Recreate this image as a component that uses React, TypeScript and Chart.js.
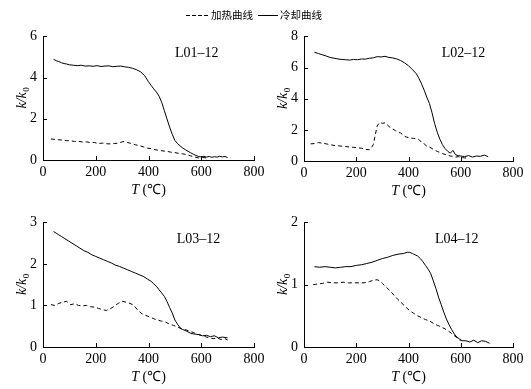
import React, { useEffect, useRef } from "react";
import { Chart, registerables } from "chart.js";
Chart.register(...registerables);

// ---------- data ----------
const xTickValues = [0, 200, 400, 600, 800];
const legendHeat = "加热曲线";
const legendCool = "冷却曲线";
const panelNames = ["L01–12", "L02–12", "L03–12", "L04–12"];
const yMaxes = [6, 8, 3, 2];
const ySteps = [2, 2, 1, 1];

// L01-12
const l01CoolT = [40,50,60,70,80,90,100,115,130,145,160,175,190,205,220,235,250,265,280,295,310,325,340,355,370,385,400,410,420,430,440,450,460,470,480,490,500,510,520,530,540,550,560,570,580,590,600,610,620,630,640,650,660,670,680,690,700];
const l01CoolK = [4.89,4.82,4.78,4.72,4.68,4.66,4.62,4.60,4.58,4.60,4.56,4.57,4.55,4.58,4.54,4.56,4.57,4.53,4.55,4.56,4.52,4.50,4.45,4.38,4.28,4.10,3.80,3.62,3.45,3.30,3.10,2.80,2.40,2.00,1.60,1.25,0.95,0.80,0.68,0.58,0.50,0.42,0.35,0.28,0.22,0.17,0.15,0.18,0.14,0.17,0.13,0.16,0.14,0.18,0.15,0.17,0.12];
const l01HeatT = [30,45,60,75,90,105,120,135,150,165,180,195,210,225,240,255,270,285,300,310,320,335,350,365,380,395,410,425,440,455,470,485,500,515,530,545,560,575,590,605,620];
const l01HeatK = [1.02,1.00,0.98,0.97,0.94,0.93,0.90,0.91,0.87,0.88,0.84,0.85,0.80,0.82,0.79,0.78,0.80,0.82,0.88,0.90,0.85,0.80,0.74,0.70,0.64,0.58,0.55,0.50,0.47,0.44,0.42,0.38,0.36,0.32,0.30,0.26,0.20,0.15,0.10,0.12,0.10];

// L02-12
const l02CoolT = [40,55,70,85,100,115,130,145,160,175,190,205,220,235,250,265,280,295,310,325,340,355,370,385,400,410,420,430,440,450,460,470,480,490,500,510,520,530,540,550,560,570,580,590,600,615,630,645,660,675,690,705];
const l02CoolK = [6.98,6.90,6.82,6.74,6.65,6.60,6.55,6.52,6.50,6.48,6.52,6.50,6.55,6.54,6.60,6.62,6.70,6.68,6.72,6.65,6.62,6.55,6.45,6.30,6.12,5.95,5.78,5.60,5.30,4.95,4.55,4.10,3.70,3.10,2.40,1.85,1.40,1.05,0.80,0.62,0.50,0.68,0.40,0.35,0.32,0.28,0.35,0.25,0.32,0.30,0.38,0.28];
const l02HeatT = [25,40,55,70,85,100,115,130,145,160,175,190,205,220,235,250,258,265,272,280,290,300,310,320,330,340,350,360,370,380,390,400,410,420,430,440,450,460,470,480,490,500,510,520,530,540,550,560,570,580,590,600,615,630];
const l02HeatK = [1.10,1.12,1.18,1.15,1.10,1.05,1.00,0.98,0.95,0.93,0.90,0.88,0.85,0.82,0.75,0.72,0.85,1.05,1.60,2.25,2.48,2.42,2.45,2.30,2.15,2.05,1.95,1.85,1.80,1.65,1.55,1.50,1.47,1.45,1.42,1.38,1.20,1.10,0.95,0.90,0.80,0.70,0.62,0.55,0.48,0.42,0.38,0.32,0.30,0.25,0.28,0.22,0.20,0.18];

// L03-12
const l03CoolT = [40,50,60,70,80,95,110,125,140,155,170,185,200,215,230,245,260,275,290,305,320,335,350,365,380,395,410,420,430,440,450,460,470,480,490,500,510,520,530,545,560,575,590,605,620,635,650,665,680,700];
const l03CoolK = [2.78,2.74,2.70,2.66,2.62,2.56,2.50,2.44,2.38,2.32,2.28,2.22,2.18,2.14,2.10,2.06,2.02,1.97,1.94,1.90,1.86,1.82,1.78,1.74,1.70,1.64,1.58,1.52,1.46,1.38,1.30,1.22,1.10,0.95,0.82,0.65,0.55,0.46,0.42,0.38,0.33,0.31,0.30,0.27,0.28,0.25,0.27,0.22,0.24,0.22];
const l03HeatT = [30,45,60,75,90,105,120,135,150,165,180,195,210,225,240,255,270,285,300,315,330,345,360,375,390,405,420,435,450,465,480,495,510,525,540,555,570,585,600,615,630,645,660,675,690,700];
const l03HeatK = [1.02,1.00,1.05,1.08,1.10,1.02,1.04,1.00,0.99,1.00,0.97,0.96,0.93,0.90,0.88,0.92,0.98,1.05,1.10,1.08,1.05,1.00,0.88,0.80,0.76,0.72,0.68,0.65,0.62,0.60,0.55,0.52,0.48,0.44,0.42,0.38,0.35,0.31,0.28,0.25,0.22,0.20,0.22,0.18,0.20,0.17];

// L04-12
const l04CoolT = [40,60,80,100,120,140,160,180,200,220,240,260,280,300,320,340,360,380,395,405,415,425,435,445,455,465,475,485,495,505,515,525,535,545,555,565,575,585,595,605,620,635,650,665,680,695,710];
const l04CoolK = [1.29,1.28,1.29,1.28,1.27,1.28,1.29,1.29,1.31,1.32,1.34,1.36,1.39,1.42,1.44,1.47,1.49,1.50,1.52,1.52,1.50,1.48,1.46,1.42,1.37,1.31,1.25,1.18,1.06,0.94,0.80,0.68,0.56,0.45,0.36,0.28,0.21,0.16,0.13,0.10,0.10,0.08,0.11,0.07,0.10,0.09,0.06];
const l04HeatT = [35,50,70,90,110,130,150,170,190,210,230,250,265,280,290,300,315,330,345,360,375,390,405,420,435,450,465,480,495,510,525,540,555,570,585,600];
const l04HeatK = [1.00,1.01,1.02,1.04,1.03,1.03,1.04,1.03,1.03,1.03,1.03,1.05,1.07,1.08,1.06,1.02,0.96,0.90,0.83,0.76,0.70,0.64,0.58,0.54,0.50,0.47,0.44,0.42,0.38,0.35,0.32,0.29,0.25,0.20,0.15,0.10];

const coolT = [l01CoolT, l02CoolT, l03CoolT, l04CoolT];
const coolK = [l01CoolK, l02CoolK, l03CoolK, l04CoolK];
const heatT = [l01HeatT, l02HeatT, l03HeatT, l04HeatT];
const heatK = [l01HeatK, l02HeatK, l03HeatK, l04HeatK];

// ---------- layout ----------
const SERIF = '"Liberation Serif", "Times New Roman", serif';
const CJK = '"Noto Sans CJK SC", sans-serif';

type Layout = {
  left: number; top: number; width: number; height: number;
  yAxisW: number; xAxisH: number; padTop: number; padRight: number; labelT: number;
};
const layouts: Layout[] = [
  { left: 0, top: 22, width: 270, height: 176, yAxisW: 43, xAxisH: 38, padTop: 12, padRight: 16, labelT: 500 },
  { left: 265, top: 22, width: 266, height: 176, yAxisW: 39, xAxisH: 37, padTop: 12, padRight: 18, labelT: 527 },
  { left: 0, top: 208, width: 270, height: 181, yAxisW: 43, xAxisH: 42, padTop: 12, padRight: 16, labelT: 507 },
  { left: 265, top: 208, width: 266, height: 181, yAxisW: 39, xAxisH: 42, padTop: 12, padRight: 18, labelT: 501 },
];

const toPoints = (t: number[], k: number[]) => t.map((x, i) => ({ x, y: k[i] }));

const decorPlugin = {
  id: "decor",
  afterDraw(chart: any, _args: any, opts: any) {
    const { ctx, chartArea, scales } = chart;
    const xs = scales.x;
    const ys = scales.y;
    ctx.save();
    ctx.strokeStyle = "#000";
    ctx.lineWidth = 1;
    ctx.beginPath();
    xs.ticks.forEach((t: any) => {
      const px = Math.round(xs.getPixelForValue(t.value)) + 0.5;
      ctx.moveTo(px, chartArea.bottom);
      ctx.lineTo(px, chartArea.bottom - 4);
    });
    ys.ticks.forEach((t: any) => {
      const py = Math.round(ys.getPixelForValue(t.value)) + 0.5;
      ctx.moveTo(chartArea.left, py);
      ctx.lineTo(chartArea.left + 4, py);
    });
    ctx.stroke();

    ctx.fillStyle = "#000";
    ctx.textAlign = "left";
    ctx.textBaseline = "alphabetic";

    // y title k/k0
    const cy = (chartArea.top + chartArea.bottom) / 2;
    const tx = chartArea.left - 22;
    ctx.save();
    ctx.translate(tx, cy);
    ctx.rotate(-Math.PI / 2);
    ctx.font = `italic 14px ${SERIF}`;
    const w1 = ctx.measureText("k/k").width;
    ctx.font = `9px ${SERIF}`;
    const w2 = ctx.measureText("0").width;
    const x0 = -(w1 + w2) / 2;
    ctx.font = `italic 14px ${SERIF}`;
    ctx.fillText("k/k", x0, 5);
    ctx.font = `9px ${SERIF}`;
    ctx.fillText("0", x0 + w1 + 0.5, 8);
    ctx.restore();

    // x title T (℃)
    const cx = (chartArea.left + chartArea.right) / 2;
    ctx.font = `italic 14px ${SERIF}`;
    const a = ctx.measureText("T").width;
    ctx.font = `14px ${SERIF}`;
    const b = ctx.measureText(" (℃)").width;
    const sx = cx - (a + b) / 2;
    const by = chartArea.bottom + 34;
    ctx.font = `italic 14px ${SERIF}`;
    ctx.fillText("T", sx, by);
    ctx.font = `14px ${SERIF}`;
    ctx.fillText(" (℃)", sx + a, by);

    // panel label
    ctx.font = `14px ${SERIF}`;
    ctx.fillText(opts.label, xs.getPixelForValue(opts.labelT), chartArea.top + 21);
    ctx.restore();
  },
};

function Panel({ idx }: { idx: number }) {
  const ref = useRef<HTMLCanvasElement | null>(null);
  const L = layouts[idx];
  useEffect(() => {
    if (!ref.current) return;
    const chart = new Chart(ref.current, {
      type: "line",
      data: {
        datasets: [
          {
            label: legendHeat,
            data: toPoints(heatT[idx], heatK[idx]),
            borderColor: "#000",
            borderWidth: 1,
            borderDash: [4, 3],
            pointRadius: 0,
            tension: 0,
            fill: false,
          },
          {
            label: legendCool,
            data: toPoints(coolT[idx], coolK[idx]),
            borderColor: "#000",
            borderWidth: 1,
            pointRadius: 0,
            tension: 0,
            fill: false,
          },
        ],
      },
      options: {
        responsive: false,
        animation: false,
        devicePixelRatio: 1,
        layout: { padding: { left: 0, top: L.padTop, right: L.padRight, bottom: 0 } },
        plugins: {
          legend: { display: false },
          tooltip: { enabled: false },
          decor: { label: panelNames[idx], labelT: L.labelT },
        } as any,
        scales: {
          x: {
            type: "linear",
            min: 0,
            max: 800,
            afterBuildTicks: (s: any) => {
              s.ticks = xTickValues.map((v) => ({ value: v }));
            },
            afterFit: (s: any) => {
              s.height = L.xAxisH;
            },
            grid: { display: true, drawOnChartArea: false, drawTicks: false },
            border: { display: true, color: "#000", width: 1 },
            ticks: { color: "#000", padding: 4, maxRotation: 0, font: { family: SERIF, size: 14 } },
          },
          y: {
            type: "linear",
            min: 0,
            max: yMaxes[idx],
            ticks: { stepSize: ySteps[idx], color: "#000", padding: 6, font: { family: SERIF, size: 14 } },
            afterFit: (s: any) => {
              s.width = L.yAxisW;
            },
            grid: { display: true, drawOnChartArea: false, drawTicks: false },
            border: { display: true, color: "#000", width: 1 },
          },
        },
      },
      plugins: [decorPlugin],
    } as any);
    return () => chart.destroy();
  }, [idx]);
  return (
    <canvas
      ref={ref}
      width={L.width}
      height={L.height}
      style={{ position: "absolute", left: L.left, top: L.top, width: L.width, height: L.height }}
    />
  );
}

export default function App() {
  return (
    <div style={{ position: "absolute", left: 0, top: 0, width: 531, height: 389, background: "#fff", overflow: "hidden" }}>
      {[0, 1, 2, 3].map((i) => (
        <Panel key={i} idx={i} />
      ))}
      <svg style={{ position: "absolute", left: 186, top: 10, width: 22, height: 10 }}>
        <line x1={0} y1={5.5} x2={22} y2={5.5} stroke="#000" strokeWidth={1} strokeDasharray="4 2" />
      </svg>
      <div style={{ position: "absolute", left: 211, top: 6, fontFamily: CJK, fontSize: 10.5, lineHeight: "18px", color: "#000", whiteSpace: "nowrap" }}>
        {legendHeat}
      </div>
      <svg style={{ position: "absolute", left: 258, top: 10, width: 20, height: 10 }}>
        <line x1={0} y1={5.5} x2={20} y2={5.5} stroke="#000" strokeWidth={1} />
      </svg>
      <div style={{ position: "absolute", left: 280, top: 6, fontFamily: CJK, fontSize: 10.5, lineHeight: "18px", color: "#000", whiteSpace: "nowrap" }}>
        {legendCool}
      </div>
    </div>
  );
}
